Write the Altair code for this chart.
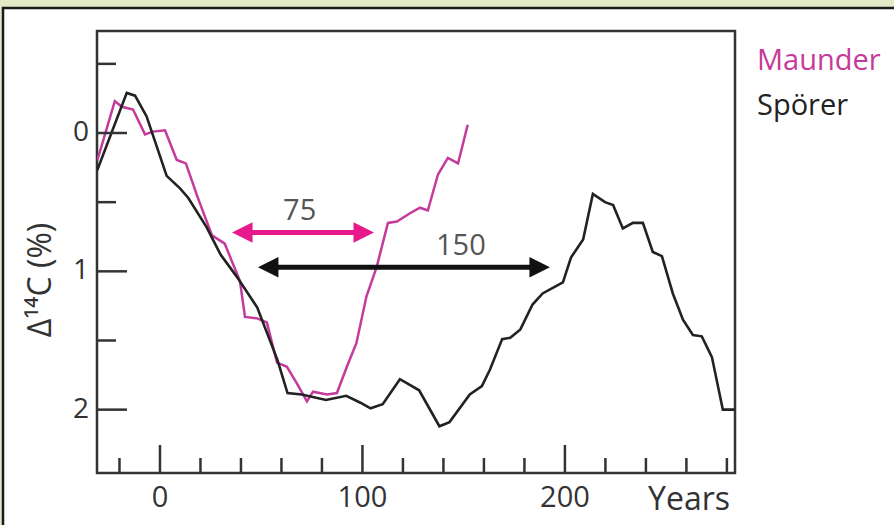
import altair as alt
import pandas as pd

# ---- data ----
sporer_years = [-31, -16.4, -12.3, -6.6, 3.3, 9.9, 14, 23, 30, 38, 48, 58, 63, 70, 82, 92, 99, 104,
                110, 118.5, 128, 138, 143, 153, 159, 163, 169, 173, 178, 184, 189, 194, 199, 203,
                209, 213.8, 219.8, 223.8, 228.6, 233.6, 238.5, 243.4, 247.9, 253.3, 258.3, 263.2,
                267.6, 272.6, 278, 284]
sporer_d14c = [0.27, -0.29, -0.27, -0.12, 0.31, 0.40, 0.47, 0.68, 0.88, 1.04, 1.26, 1.64, 1.88, 1.89,
               1.93, 1.90, 1.95, 1.99, 1.96, 1.78, 1.86, 2.12, 2.09, 1.89, 1.83, 1.71, 1.49, 1.48,
               1.42, 1.24, 1.16, 1.12, 1.08, 0.90, 0.77, 0.44, 0.50, 0.52, 0.69, 0.65, 0.65, 0.86,
               0.89, 1.16, 1.35, 1.46, 1.47, 1.62, 2.0, 2.0]

maunder_years = [-31, -22.3, -18.8, -13.3, -7.4, -3.5, 2.5, 8.3, 12.8, 18.5, 25.7, 32, 39.5, 42, 48,
                 52.8, 57.8, 62.7, 67.6, 72.6, 75.6, 82.5, 87.4, 92.3, 97, 102, 107, 112.6, 117,
                 123.5, 128.4, 132.3, 137.3, 142.2, 147.2, 152]
maunder_d14c = [0.2, -0.23, -0.19, -0.17, 0.01, -0.01, -0.02, 0.195, 0.22, 0.46, 0.74, 0.80, 1.07,
                1.33, 1.34, 1.37, 1.66, 1.69, 1.81, 1.94, 1.87, 1.89, 1.88, 1.69, 1.52, 1.18, 0.97,
                0.65, 0.64, 0.58, 0.54, 0.56, 0.30, 0.18, 0.22, -0.06]

series_names = ["Maunder", "Spörer"]
series_colors = ["#c53a9a", "#222222"]

x_minor_ticks = [-20, 20, 40, 60, 80, 120, 140, 160, 180, 220, 240, 260, 280]
x_major_ticks = [0, 100, 200]
x_tick_labels = ["0", "100", "200"]
y_minor_ticks = [-0.5, 0.5, 1.5]
y_major_ticks = [0, 1, 2]
y_tick_labels = ["0", "1", "2"]
x_title = "Years"
y_title = "Δ¹⁴C (%)"

arrow_text = ["75", "150"]
arrow_from = [35.6, 48.4]
arrow_to = [105.7, 192.6]
arrow_level = [0.72, 0.97]
arrow_text_x = [69, 148.6]
arrow_text_level = [0.565, 0.815]
arrow_colors = ["#e8198b", "#111111"]

W, H = 638, 442
FONT = "Open Sans"
TXT = "#333333"

xs = alt.Scale(domain=[-31.1, 284], nice=False, zero=False)
ys = alt.Scale(domain=[-0.7375, 2.458], reverse=True, nice=False, zero=False)

sp = pd.DataFrame({"year": sporer_years, "d14c": sporer_d14c})
mu = pd.DataFrame({"year": maunder_years, "d14c": maunder_d14c})
xt_min = pd.DataFrame({"t": x_minor_ticks})
xt_maj = pd.DataFrame({"t": x_major_ticks, "lab": x_tick_labels})
yt_min = pd.DataFrame({"t": y_minor_ticks})
yt_maj = pd.DataFrame({"t": y_major_ticks, "lab": y_tick_labels})
arrows = pd.DataFrame({"label": arrow_text, "x0": arrow_from, "x1": arrow_to,
                       "lvl": arrow_level, "tx": arrow_text_x, "tl": arrow_text_level,
                       "c": arrow_colors})
one = pd.DataFrame({"a": [0]})

# decorative page frame
page = alt.Chart(one).mark_rect(
    fill="white", stroke="#1a1a1a", strokeWidth=2.5
).encode(x=alt.value(-94), x2=alt.value(894 - 97 + 10),
         y=alt.value(-23), y2=alt.value(525 - 31 + 10))

frame = alt.Chart(one).mark_rect(
    fill="white", fillOpacity=0, stroke="#333333", strokeWidth=2.5
).encode(x=alt.value(0), x2=alt.value(W), y=alt.value(0), y2=alt.value(H))

tick_style = dict(color="#333333", strokeWidth=2.5)
xminor = alt.Chart(xt_min).mark_rule(**tick_style).encode(
    x=alt.X("t:Q", scale=xs, axis=None), y=alt.value(H), y2=alt.value(H - 15))
xmajor = alt.Chart(xt_maj).mark_rule(**tick_style).encode(
    x=alt.X("t:Q", scale=xs, axis=None), y=alt.value(H), y2=alt.value(H - 28))
yminor = alt.Chart(yt_min).mark_rule(**tick_style).encode(
    y=alt.Y("t:Q", scale=ys, axis=None), x=alt.value(0), x2=alt.value(19))
ymajor = alt.Chart(yt_maj).mark_rule(**tick_style).encode(
    y=alt.Y("t:Q", scale=ys, axis=None), x=alt.value(0), x2=alt.value(30))

xlabels = alt.Chart(xt_maj).mark_text(font=FONT, fontSize=29, color=TXT,
                                      align="center", baseline="middle").encode(
    x=alt.X("t:Q", scale=xs, axis=None), y=alt.value(H + 25), text="lab:N")
ylabels = alt.Chart(yt_maj).mark_text(font=FONT, fontSize=28, color=TXT,
                                      align="right", baseline="middle").encode(
    y=alt.Y("t:Q", scale=ys, axis=None), x=alt.value(-8), text="lab:N")
xtitle = alt.Chart(pd.DataFrame({"s": [x_title]})).mark_text(
    font=FONT, fontSize=32, color=TXT, align="center", baseline="middle"
).encode(x=alt.value(592), y=alt.value(H + 27), text="s:N")
ytitle = alt.Chart(pd.DataFrame({"s": [y_title]})).mark_text(
    font=FONT, fontSize=32, color=TXT, align="center", baseline="middle", angle=270
).encode(x=alt.value(-56), y=alt.value(249), text="s:N")

maunder_line = alt.Chart(mu).mark_line(color=series_colors[0], strokeWidth=2.5, clip=True).encode(
    x=alt.X("year:Q", scale=xs, axis=None),
    y=alt.Y("d14c:Q", scale=ys, axis=None))
sporer_line = alt.Chart(sp).mark_line(color=series_colors[1], strokeWidth=2.6, clip=True).encode(
    x=alt.X("year:Q", scale=xs, axis=None),
    y=alt.Y("d14c:Q", scale=ys, axis=None))

shaft = alt.Chart(arrows).mark_rule(strokeWidth=5, xOffset=12, x2Offset=-12).encode(
    x=alt.X("x0:Q", scale=xs, axis=None), x2="x1:Q",
    y=alt.Y("lvl:Q", scale=ys, axis=None),
    color=alt.Color("c:N", scale=None))
head_l = alt.Chart(arrows).mark_point(shape="M0,0L2,-1L2,1Z", filled=True, size=420,
                                      opacity=1, strokeWidth=0).encode(
    x=alt.X("x0:Q", scale=xs, axis=None),
    y=alt.Y("lvl:Q", scale=ys, axis=None),
    color=alt.Color("c:N", scale=None))
head_r = alt.Chart(arrows).mark_point(shape="M0,0L-2,-1L-2,1Z", filled=True, size=420,
                                      opacity=1, strokeWidth=0).encode(
    x=alt.X("x1:Q", scale=xs, axis=None),
    y=alt.Y("lvl:Q", scale=ys, axis=None),
    color=alt.Color("c:N", scale=None))
arrow_lab = alt.Chart(arrows).mark_text(font=FONT, fontSize=29, color="#555555",
                                        baseline="middle", align="center").encode(
    x=alt.X("tx:Q", scale=xs, axis=None),
    y=alt.Y("tl:Q", scale=ys, axis=None),
    text="label:N")

leg1 = alt.Chart(pd.DataFrame({"s": [series_names[0]]})).mark_text(
    font=FONT, fontSize=29, color=series_colors[0], align="left", baseline="alphabetic"
).encode(x=alt.value(660), y=alt.value(39), text="s:N")
leg2 = alt.Chart(pd.DataFrame({"s": [series_names[1]]})).mark_text(
    font=FONT, fontSize=29, color="#222222", align="left", baseline="alphabetic"
).encode(x=alt.value(660), y=alt.value(84), text="s:N")

chart = alt.layer(
    page, frame, maunder_line, sporer_line, xminor, xmajor, yminor, ymajor,
    xlabels, ylabels, xtitle, ytitle,
    shaft, head_l, head_r, arrow_lab, leg1, leg2
).properties(
    width=W, height=H, background="#e3e9c6",
    padding={"left": 97, "top": 31, "right": 894 - 97 - W, "bottom": 525 - 31 - H},
    autosize=alt.AutoSizeParams(type="none"),
).configure_view(strokeWidth=0)

chart.save("out.html", embed_options={"renderer": "svg", "actions": False})
